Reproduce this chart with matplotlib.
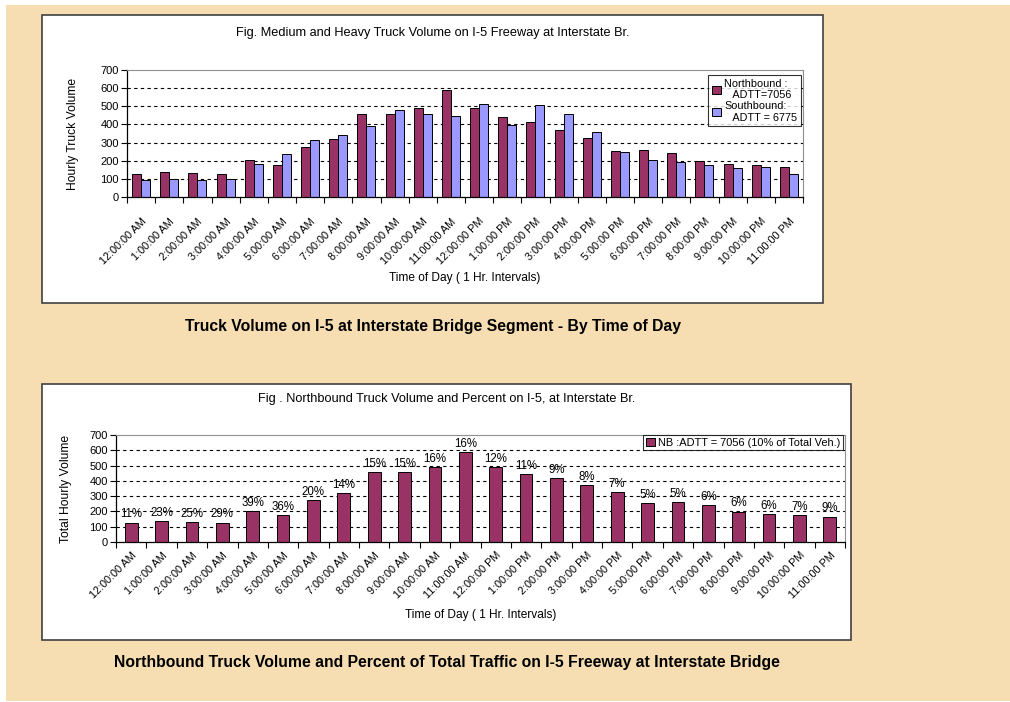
import matplotlib.pyplot as plt
from matplotlib.patches import Rectangle
from matplotlib.transforms import ScaledTranslation
import numpy as np

plt.rcParams['font.family'] = ['Liberation Sans', 'DejaVu Sans']

hours = ["12:00:00 AM", "1:00:00 AM", "2:00:00 AM", "3:00:00 AM", "4:00:00 AM",
         "5:00:00 AM", "6:00:00 AM", "7:00:00 AM", "8:00:00 AM", "9:00:00 AM",
         "10:00:00 AM", "11:00:00 AM", "12:00:00 PM", "1:00:00 PM", "2:00:00 PM",
         "3:00:00 PM", "4:00:00 PM", "5:00:00 PM", "6:00:00 PM", "7:00:00 PM",
         "8:00:00 PM", "9:00:00 PM", "10:00:00 PM", "11:00:00 PM"]
northbound = [127, 138, 133, 127, 204, 177, 276, 319, 455, 455, 488, 589,
              488, 442, 416, 372, 324, 254, 260, 241, 199, 182, 177, 166]
southbound = [92, 101, 92, 101, 182, 236, 313, 339, 389, 477, 460, 449,
              510, 396, 505, 455, 361, 249, 206, 195, 177, 162, 166, 127]
nb_percent = ["11%", "23%", "25%", "29%", "39%", "36%", "20%", "14%", "15%", "15%",
              "16%", "16%", "12%", "11%", "9%", "8%", "7%", "5%", "5%", "6%",
              "6%", "6%", "7%", "9%"]

NB_COLOR = '#993366'
SB_COLOR = '#9999FF'
W, H = 1010, 702

fig = plt.figure(figsize=(W / 100, H / 100), dpi=100)
fig.patch.set_facecolor('white')


def box(x0, y0, x1, y1, **kw):
    # rectangle given in pixel coords (top-left origin), kept behind the axes
    fig.patches.append(Rectangle((x0 / W, 1 - y1 / H), (x1 - x0) / W, (y1 - y0) / H,
                                 transform=fig.transFigure, figure=fig, zorder=-10, **kw))


def axes_px(x0, y0, x1, y1):
    return fig.add_axes([x0 / W, 1 - y1 / H, (x1 - x0) / W, (y1 - y0) / H])


box(6, 5, W, 701, facecolor='#F6DEB2', edgecolor='none')
box(42, 15, 823, 303, facecolor='white', edgecolor='#404040', linewidth=1.2)
box(42, 384, 851, 640, facecolor='white', edgecolor='#404040', linewidth=1.2)


def style_axes(ax, ylabel, ypad, xpad, tick_dx, tick_pad):
    x = np.arange(len(hours))
    ax.set_xlim(-0.5, len(hours) - 0.5)
    ax.set_ylim(0, 700)
    ax.set_yticks(range(0, 701, 100))
    for y in range(100, 700, 100):
        ax.axhline(y, color='black', linestyle=(0, (3, 3)), linewidth=0.8, zorder=0)
    ax.spines['top'].set_color('#909090')
    ax.spines['right'].set_color('#909090')
    ax.spines['left'].set_linewidth(0.9)
    ax.spines['bottom'].set_linewidth(0.9)
    ax.set_xticks(x)
    ax.set_xticklabels(hours, rotation=45, ha='right', rotation_mode='anchor', fontsize=7.8)
    shift = ScaledTranslation(tick_dx / 100, 0, fig.dpi_scale_trans)
    for lab in ax.get_xticklabels():
        lab.set_transform(lab.get_transform() + shift)
    ax.tick_params(axis='x', length=0, pad=tick_pad)
    ax.set_xticks(np.arange(-0.5, len(hours)), minor=True)
    ax.tick_params(axis='x', which='minor', length=4, direction='out', width=0.8)
    ax.tick_params(axis='y', length=4, direction='out', labelsize=8, pad=2, width=0.8)
    ax.set_ylabel(ylabel, fontsize=8.7, labelpad=ypad)
    ax.set_xlabel("Time of Day ( 1 Hr. Intervals)", fontsize=8.6, labelpad=xpad)


# top chart
x = np.arange(len(hours))
ax1 = axes_px(127, 70, 803, 197)
bw = 0.32
ax1.bar(x - bw / 2, northbound, bw, color=NB_COLOR, edgecolor='black', linewidth=0.7,
        label="Northbound :\n   ADTT=7056", zorder=2)
ax1.bar(x + bw / 2, southbound, bw, color=SB_COLOR, edgecolor='black', linewidth=0.7,
        label="Southbound:\n   ADTT = 6775", zorder=2)
style_axes(ax1, "Hourly Truck Volume", 15, 4, -14, 14)
leg1 = ax1.legend(loc='upper right', bbox_to_anchor=(801 / W, 1 - 75 / H),
                  bbox_transform=fig.transFigure, fontsize=7.8, frameon=True, fancybox=False,
                  handlelength=0.8, handleheight=0.8, handletextpad=0.3, borderpad=0.35,
                  labelspacing=0.05, borderaxespad=0)
leg1.get_frame().set_edgecolor('black')
leg1.get_frame().set_linewidth(0.8)
fig.text(433 / W, 1 - 33 / H, "Fig. Medium and Heavy Truck Volume on I-5 Freeway at Interstate Br.",
         ha='center', va='center', fontsize=9.2)

# bottom chart
ax2 = axes_px(116, 435, 845, 542)
bars = ax2.bar(x, northbound, 0.42, color=NB_COLOR, edgecolor='black', linewidth=0.7,
               label="NB :ADTT = 7056 (10% of Total Veh.)", zorder=2)
for rect, pct in zip(bars, nb_percent):
    ax2.text(rect.get_x() + rect.get_width() / 2, rect.get_height() + 14, pct,
             ha='center', va='bottom', fontsize=8.3)
style_axes(ax2, "Total Hourly Volume", 12, 6, -11, 6)
leg2 = ax2.legend(loc='upper right', bbox_to_anchor=(843 / W, 1 - 435 / H),
                  bbox_transform=fig.transFigure, fontsize=7.9, frameon=True, fancybox=False,
                  handlelength=0.8, handleheight=0.8, handletextpad=0.3, borderpad=0.25,
                  borderaxespad=0)
leg2.get_frame().set_edgecolor('black')
leg2.get_frame().set_linewidth(0.8)
fig.text(447 / W, 1 - 399 / H, "Fig . Northbound Truck Volume and Percent on I-5, at Interstate Br.",
         ha='center', va='center', fontsize=9.2)

fig.text(433 / W, 1 - 327 / H, "Truck Volume on I-5 at Interstate Bridge Segment - By Time of Day",
         ha='center', va='center', fontsize=11.3, fontweight='bold')
fig.text(447 / W, 1 - 662 / H,
         "Northbound Truck Volume and Percent of Total Traffic on I-5 Freeway at Interstate Bridge",
         ha='center', va='center', fontsize=11.3, fontweight='bold')

fig.savefig('out.png', dpi=100, facecolor=fig.get_facecolor())
